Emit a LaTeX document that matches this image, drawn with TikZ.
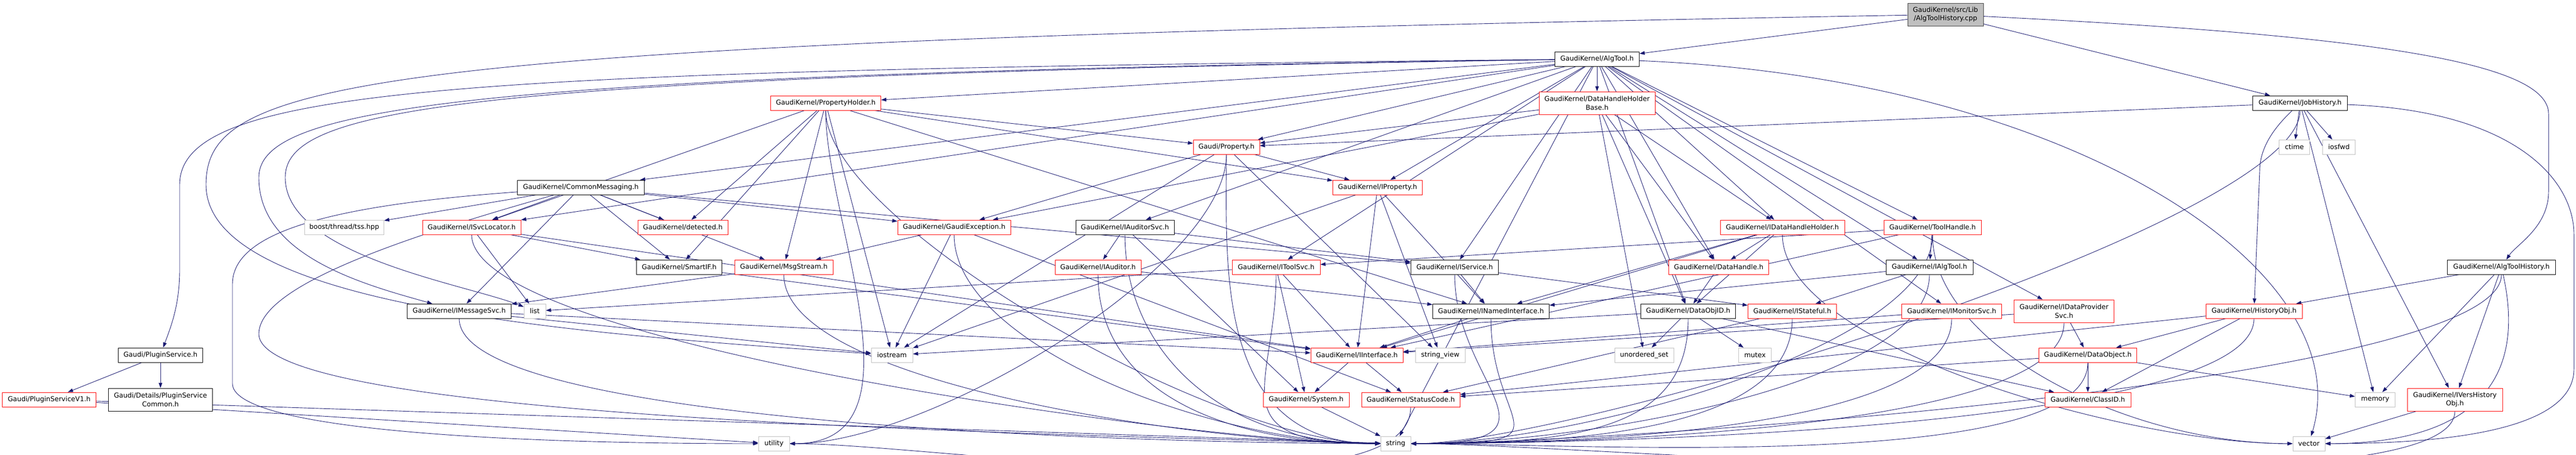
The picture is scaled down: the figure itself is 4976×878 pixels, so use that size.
\documentclass[tikz,border=0pt]{standalone}
\usepackage{fontspec}
\setmainfont{DejaVu Sans}
\usetikzlibrary{arrows.meta}
\definecolor{edgeblue}{RGB}{25,25,112}
\definecolor{hdrred}{RGB}{255,0,0}
\definecolor{hdrgray}{RGB}{191,191,191}
\pgfdeclarelayer{bg}
\pgfsetlayers{bg,main}

\begin{document}
\begin{tikzpicture}[x=1pt, y=1pt, >={Triangle[length=10pt,width=7pt]},
  hdr/.style={draw=black, fill=white, line width=0.9pt, inner sep=1pt, minimum height=28pt,
    align=center, font=\fontsize{13}{16.5}\selectfont},
  redhdr/.style={hdr, draw=hdrred},
  syshdr/.style={hdr, draw=hdrgray},
  srchdr/.style={hdr, draw=black!75, fill=hdrgray},
  incl/.style={->, draw=edgeblue, line width=0.9pt}]
  \useasboundingbox (0,0) rectangle (4976,-878);
  % headers, row by row
  \node[srchdr, minimum width=146pt, minimum height=44pt] (src) at (3758,-28) {GaudiKernel/src/Lib\\/AlgToolHistory.cpp};
  \node[hdr, minimum width=163pt] (algtool) at (3085,-114) {GaudiKernel/AlgTool.h};
  \node[redhdr, minimum width=213pt] (propholder) at (1595,-199) {GaudiKernel/PropertyHolder.h};
  \node[redhdr, minimum width=224pt, minimum height=44pt] (dhhb) at (3085,-199) {GaudiKernel/DataHandleHolder\\Base.h};
  \node[hdr, minimum width=183pt] (jobhist) at (4443,-199) {GaudiKernel/JobHistory.h};
  \node[redhdr, minimum width=128pt] (gprop) at (2369,-284) {Gaudi/Property.h};
  \node[syshdr, minimum width=59pt] (ctime) at (4432,-284) {ctime};
  \node[syshdr, minimum width=63pt] (iosfwd) at (4518,-284) {iosfwd};
  \node[hdr, minimum width=245pt] (cmsg) at (1122,-362) {GaudiKernel/CommonMessaging.h};
  \node[redhdr, minimum width=173pt] (iprop) at (2661,-362) {GaudiKernel/IProperty.h};
  \node[syshdr, minimum width=153pt] (tss) at (665,-439) {boost/thread/tss.hpp};
  \node[redhdr, minimum width=190pt] (isvcloc) at (911,-439) {GaudiKernel/ISvcLocator.h};
  \node[redhdr, minimum width=174pt] (detected) at (1319,-439) {GaudiKernel/detected.h};
  \node[redhdr, minimum width=218pt] (gexc) at (1843,-439) {GaudiKernel/GaudiException.h};
  \node[hdr, minimum width=190pt] (iaudsvc) at (2173,-439) {GaudiKernel/IAuditorSvc.h};
  \node[redhdr, minimum width=240pt] (idhh) at (3443,-439) {GaudiKernel/IDataHandleHolder.h};
  \node[redhdr, minimum width=188pt] (toolhandle) at (3733,-439) {GaudiKernel/ToolHandle.h};
  \node[hdr, minimum width=165pt] (smartif) at (1312,-516) {GaudiKernel/SmartIF.h};
  \node[redhdr, minimum width=190pt] (msgstream) at (1514,-516) {GaudiKernel/MsgStream.h};
  \node[redhdr, minimum width=166pt] (iauditor) at (2121,-516) {GaudiKernel/IAuditor.h};
  \node[redhdr, minimum width=170pt] (itoolsvc) at (2465,-516) {GaudiKernel/IToolSvc.h};
  \node[hdr, minimum width=169pt] (iservice) at (2810,-516) {GaudiKernel/IService.h};
  \node[redhdr, minimum width=193pt] (datahandle) at (3320,-516) {GaudiKernel/DataHandle.h};
  \node[hdr, minimum width=168pt] (ialgtool) at (3727,-516) {GaudiKernel/IAlgTool.h};
  \node[hdr, minimum width=209pt] (algtoolhist) at (4832,-516) {GaudiKernel/AlgToolHistory.h};
  \node[hdr, minimum width=201pt] (imsgsvc) at (887,-601) {GaudiKernel/IMessageSvc.h};
  \node[syshdr, minimum width=42pt] (list) at (1033,-601) {list};
  \node[hdr, minimum width=225pt] (inamed) at (2880,-601) {GaudiKernel/INamedInterface.h};
  \node[hdr, minimum width=183pt] (dataobjid) at (3261,-601) {GaudiKernel/DataObjID.h};
  \node[redhdr, minimum width=171pt] (istateful) at (3462,-601) {GaudiKernel/IStateful.h};
  \node[redhdr, minimum width=193pt] (imonsvc) at (3770,-601) {GaudiKernel/IMonitorSvc.h};
  \node[redhdr, minimum width=193pt, minimum height=44pt] (idpsvc) at (3987,-601) {GaudiKernel/IDataProvider\\Svc.h};
  \node[redhdr, minimum width=186pt] (histobj) at (4354,-601) {GaudiKernel/HistoryObj.h};
  \node[hdr, minimum width=163pt] (plugsvc) at (310,-686) {Gaudi/PluginService.h};
  \node[syshdr, minimum width=80pt] (iostream) at (1723,-686) {iostream};
  \node[redhdr, minimum width=178pt] (iinterface) at (2621,-686) {GaudiKernel/IInterface.h};
  \node[syshdr, minimum width=96pt] (strview) at (2782,-686) {string\_view};
  \node[syshdr, minimum width=114pt] (uset) at (3176,-686) {unordered\_set};
  \node[syshdr, minimum width=63pt] (mutex) at (3390,-686) {mutex};
  \node[redhdr, minimum width=189pt] (dataobj) at (4033,-686) {GaudiKernel/DataObject.h};
  \node[redhdr, minimum width=181pt] (plugv1) at (95,-772) {Gaudi/PluginServiceV1.h};
  \node[hdr, minimum width=201pt, minimum height=44pt] (plugcommon) at (310,-772) {Gaudi/Details/PluginService\\Common.h};
  \node[redhdr, minimum width=166pt] (system) at (2523,-772) {GaudiKernel/System.h};
  \node[redhdr, minimum width=190pt] (statuscode) at (2725,-772) {GaudiKernel/StatusCode.h};
  \node[redhdr, minimum width=166pt] (classid) at (4033,-772) {GaudiKernel/ClassID.h};
  \node[syshdr, minimum width=77pt] (memory) at (4588,-772) {memory};
  \node[redhdr, minimum width=184pt, minimum height=44pt] (ivers) at (4742,-772) {GaudiKernel/IVersHistory\\Obj.h};
  \node[syshdr, minimum width=60pt] (utility) at (1495,-857) {utility};
  \node[syshdr, minimum width=58pt] (string) at (2696,-857) {string};
  \node[syshdr, minimum width=62pt] (vector) at (4460,-857) {vector};
  \begin{pgfonlayer}{bg}
  % direct includes
  \foreach \src/\dst in {src/algtool, src/jobhist,
      algtool/propholder, algtool/dhhb, algtool/cmsg, algtool/isvcloc, algtool/gprop, algtool/iprop,
      algtool/iaudsvc, algtool/itoolsvc, algtool/iservice, algtool/idhh, algtool/datahandle,
      algtool/dataobjid, algtool/toolhandle, algtool/ialgtool, algtool/imonsvc, algtool/idpsvc, algtool/string,
      dhhb/gprop, dhhb/idhh, dhhb/datahandle, dhhb/dataobjid, dhhb/uset, dhhb/gexc,
      propholder/gprop, propholder/iprop, propholder/inamed, propholder/detected, propholder/smartif,
      propholder/msgstream, propholder/iostream, propholder/isvcloc,
      cmsg/tss, cmsg/isvcloc, cmsg/detected, cmsg/imsgsvc, cmsg/smartif, cmsg/msgstream, cmsg/gexc, cmsg/iservice,
      isvcloc/smartif, isvcloc/list, isvcloc/iinterface,
      imsgsvc/iinterface, imsgsvc/iostream, smartif/iinterface, msgstream/imsgsvc,
      gexc/msgstream, gexc/iostream, gexc/statuscode,
      gprop/gexc, gprop/iprop, gprop/strview, gprop/iostream,
      iprop/iinterface, iprop/strview, iprop/inamed, iprop/iostream,
      iaudsvc/iauditor, iaudsvc/iservice, iaudsvc/system, iauditor/inamed,
      itoolsvc/iinterface, itoolsvc/system, itoolsvc/list,
      iservice/inamed, iservice/istateful, inamed/iinterface,
      iinterface/system, iinterface/statuscode, system/string,
      toolhandle/ialgtool, toolhandle/itoolsvc, toolhandle/iinterface,
      ialgtool/inamed, ialgtool/istateful, istateful/statuscode,
      idhh/datahandle, idhh/dataobjid, idhh/inamed, idhh/iinterface, datahandle/dataobjid,
      dataobjid/uset, dataobjid/mutex, dataobjid/classid, dataobjid/iostream,
      imonsvc/iinterface, idpsvc/dataobj, idpsvc/iinterface,
      dataobj/classid, dataobj/statuscode, dataobj/memory,
      histobj/dataobj, histobj/classid, histobj/statuscode,
      jobhist/gprop, jobhist/ctime, jobhist/iosfwd, jobhist/memory, jobhist/ivers,
      algtoolhist/histobj, algtoolhist/memory, algtoolhist/ivers,
      ivers/vector, plugsvc/plugv1, plugsvc/plugcommon, plugv1/utility, plugv1/string}
    \draw[incl] (\src) -- (\dst);
  % bending down into the bottom row
  \foreach \src in {propholder, isvcloc, imsgsvc, msgstream, gexc, gprop, iaudsvc, iauditor, itoolsvc}
    \draw[incl] (\src) .. controls +(0,-230) and +(-350,0) .. (string);
  \foreach \src in {iservice, inamed, toolhandle, ialgtool, istateful, dataobjid, imonsvc, idpsvc,
      dataobj, histobj, jobhist, algtoolhist, ivers}
    \draw[incl] (\src) .. controls +(0,-230) and +(350,0) .. (string);
  \foreach \src in {toolhandle, idhh}
    \draw[incl] (\src) .. controls +(0,-230) and +(-350,0) .. (vector);
  \foreach \src in {propholder, gprop, statuscode}
    \draw[incl] (\src) .. controls +(0,-230) and +(300,0) .. (utility);
  \draw[incl] (algtoolhist) .. controls +(60,-270) and +(250,0) .. (vector);
  % long detours
  \draw[incl] (jobhist) .. controls (4400,-240) and (4365,-280) .. (4365,-330) -- (histobj);
  \draw[incl] (src) .. controls (4600,-69) and (4923,-123) .. (4923,-220) -- (4923,-370)
    .. controls (4923,-439) and (4860,-473) .. (algtoolhist);
  \draw[incl] (src) .. controls (700,-82) and (398,-151) .. (398,-357)
    .. controls (398,-590) and (1100,-645) .. (iostream);
  \draw[incl] (algtool) .. controls (900,-137) and (347,-165) .. (347,-357) -- (347,-521)
    .. controls (347,-590) and (330,-631) .. (plugsvc);
  \draw[incl] (algtool) .. controls (900,-144) and (500,-206) .. (500,-343)
    .. controls (500,-494) and (700,-549) .. (imsgsvc);
  \draw[incl] (algtool) .. controls (900,-148) and (551,-206) .. (551,-343)
    .. controls (551,-494) and (900,-549) .. (list);
  \draw[incl] (cmsg) .. controls (620,-398) and (449,-453) .. (449,-549) -- (449,-741)
    .. controls (449,-823) and (900,-857) .. (utility);
  \draw[incl] (cmsg) .. controls (800,-453) and (500,-549) .. (500,-645)
    .. controls (500,-782) and (1500,-830) .. (string);
  \draw[incl] (algtool) .. controls (4000,-151) and (4560,-521) .. (vector);
  \draw[incl] (jobhist) .. controls (4850,-213) and (4972,-343) .. (4972,-453) -- (4972,-713)
    .. controls (4972,-837) and (4700,-857) .. (vector);
  \end{pgfonlayer}
\end{tikzpicture}
\end{document}
